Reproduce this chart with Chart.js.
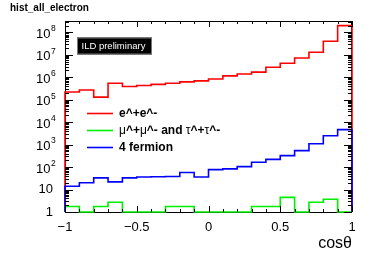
<!DOCTYPE html>
<html>
<head>
<meta charset="utf-8">
<script src="https://cdn.jsdelivr.net/npm/chart.js@4.4.0/dist/chart.umd.min.js"></script>
<style>
  html, body { margin: 0; padding: 0; background: #fff; }
  #wrap { width: 382px; height: 260px; }
</style>
</head>
<body>
<div id="wrap"><canvas id="histChart" width="382" height="260"></canvas></div>
<script>
// bin low edges, cos(theta) from -1 to 1, width 0.1
const binLow = [-1.0, -0.9, -0.8, -0.7, -0.6, -0.5, -0.4, -0.3, -0.2, -0.1,
                0.0, 0.1, 0.2, 0.3, 0.4, 0.5, 0.6, 0.7, 0.8, 0.9];
const binHigh = 1.0;

const eeValues = [2.2e5, 2.7e5, 1.3e5, 5.4e5, 3.9e5, 4.3e5, 4.8e5, 5.4e5, 6.2e5, 6.9e5,
                  8.4e5, 1.15e6, 1.4e6, 1.7e6, 2.8e6, 4.2e6, 7.2e6, 1.3e7, 4.0e7, 2.0e8];
const mumuTautauValues = [1.75, 1, 1.75, 2.7, 1, 1, 1, 1.75, 1.75, 1,
                          1, 1, 1, 1.75, 1.75, 4.5, 1, 2.7, 3.7, 1];
const fourFermionValues = [14, 20, 33, 22, 33, 36, 37, 38, 57, 36,
                           77, 83, 105, 164, 220, 324, 540, 1090, 2500, 4650];

const seriesLabels = ['e^+e^-', '\u03bc^+\u03bc^- and \u03c4^+\u03c4^-', '4 fermion'];
const xTickValues = [-1, -0.5, 0, 0.5, 1];
const yTickValues = [1, 10, 1e2, 1e3, 1e4, 1e5, 1e6, 1e7, 1e8];
const yMin = 1, yMax = 3.2e8;

const FONT = '"Liberation Sans", Arial, Helvetica, sans-serif';

function histPoints(values) {
  const pts = [{x: binLow[0], y: yMin}];
  values.forEach((v, i) => pts.push({x: binLow[i], y: v}));
  pts.push({x: binHigh, y: values[values.length - 1]});
  pts.push({x: binHigh, y: yMin});
  return pts;
}

function drawMixed(ctx, text, x, y) {
  // greek letters in plain weight, the rest bold (like ROOT latex)
  text.split(/([\u03bc\u03c4])/).forEach(part => {
    if (!part) return;
    ctx.font = (/[\u03bc\u03c4]/.test(part) ? '' : 'bold ') + '12px ' + FONT;
    ctx.fillText(part, x, y);
    x += ctx.measureText(part).width;
  });
}

const rootStyle = {
  id: 'rootStyle',
  beforeDatasetsDraw(chart) {
    const {ctx, chartArea: a} = chart;
    ctx.save();
    ctx.strokeStyle = '#000';
    ctx.lineWidth = 1;
    ctx.strokeRect(a.left + 0.5, a.top + 0.5, a.right - a.left - 1, a.bottom - a.top);
    ctx.restore();
  },
  afterDatasetsDraw(chart) {
    const {ctx, chartArea: a, scales: {x, y}} = chart;
    ctx.save();
    ctx.strokeStyle = '#000';
    ctx.lineWidth = 1;
    ctx.beginPath();
    // x ticks, bottom and top
    for (let i = -10; i <= 10; i++) {
      const px = Math.round(x.getPixelForValue(i / 10)) + 0.5;
      const len = (i % 5 === 0) ? 6 : 3;
      ctx.moveTo(px, a.bottom); ctx.lineTo(px, a.bottom - len);
      ctx.moveTo(px, a.top); ctx.lineTo(px, a.top + len);
    }
    // log y ticks, left and right
    for (let d = 0; d <= 8; d++) {
      for (let m = 1; m <= 9; m++) {
        const v = m * Math.pow(10, d);
        if (v > yMax) break;
        const py = Math.round(y.getPixelForValue(v)) + 0.5;
        const len = (m === 1) ? 8 : 4;
        ctx.moveTo(a.left, py); ctx.lineTo(a.left + len, py);
        ctx.moveTo(a.right, py); ctx.lineTo(a.right - len, py);
      }
    }
    ctx.stroke();
    ctx.restore();
  },
  afterDraw(chart) {
    const {ctx, chartArea: a, scales: {y}} = chart;
    ctx.save();
    ctx.fillStyle = '#000';

    // y labels with exponents
    yTickValues.forEach(v => {
      const py = y.getPixelForValue(v);
      const e = Math.round(Math.log10(v));
      ctx.textBaseline = 'middle';
      if (e < 2) {
        ctx.font = '13px ' + FONT;
        ctx.textAlign = 'right';
        ctx.fillText(String(v), 53, py);
      } else {
        ctx.font = '13px ' + FONT;
        ctx.textAlign = 'right';
        ctx.fillText('10', 50.5, py + 2);
        ctx.font = '8.5px ' + FONT;
        ctx.textAlign = 'left';
        ctx.fillText(String(e), 51, py - 3.5);
      }
    });

    // title
    ctx.font = 'bold 10px ' + FONT;
    ctx.textAlign = 'left';
    ctx.textBaseline = 'middle';
    ctx.fillText('hist_all_electron', 10, 8.5);

    // axis title
    ctx.font = '16px ' + FONT;
    ctx.textAlign = 'right';
    ctx.fillText('cos\u03b8', a.right, 244);

    // ILD preliminary box
    ctx.fillStyle = '#000';
    ctx.fillRect(77, 37.5, 75, 17);
    ctx.strokeStyle = '#777';
    ctx.lineWidth = 1;
    ctx.strokeRect(77.5, 38, 74, 16);
    ctx.fillStyle = '#fff';
    ctx.font = '9.5px ' + FONT;
    ctx.textAlign = 'left';
    ctx.fillText('ILD preliminary', 81.5, 46.5);

    // legend
    const rows = [113.5, 130.5, 147.5];
    chart.data.datasets.forEach((ds, i) => {
      ctx.strokeStyle = ds.borderColor;
      ctx.lineWidth = 1.6;
      ctx.beginPath();
      ctx.moveTo(87, rows[i]); ctx.lineTo(113, rows[i]);
      ctx.stroke();
      ctx.fillStyle = '#000';
      ctx.textAlign = 'left';
      ctx.textBaseline = 'middle';
      drawMixed(ctx, ds.label, 119, rows[i]);
    });
    ctx.restore();
  }
};

const ctx = document.getElementById('histChart').getContext('2d');
const histChart = new Chart(ctx, {
  type: 'line',
  data: {
    datasets: [
      {label: seriesLabels[0], data: histPoints(eeValues), borderColor: '#ff0000', order: 3},
      {label: seriesLabels[1], data: histPoints(mumuTautauValues), borderColor: '#00ee00', order: 2},
      {label: seriesLabels[2], data: histPoints(fourFermionValues), borderColor: '#0000ff', order: 1}
    ].map(ds => Object.assign(ds, {stepped: true, borderWidth: 1.6, pointRadius: 0, fill: false, clip: false}))
  },
  options: {
    responsive: false,
    animation: false,
    layout: {padding: {left: 0, right: 30, top: 21, bottom: 0}},
    plugins: {legend: {display: false}, tooltip: {enabled: false}},
    scales: {
      x: {
        type: 'linear', min: -1, max: 1,
        grid: {display: false}, border: {display: false},
        afterBuildTicks: s => { s.ticks = xTickValues.map(v => ({value: v})); },
        afterFit: s => { s.height = 48; },
        ticks: {
          padding: 0, maxRotation: 0, autoSkip: false, color: '#000',
          font: {family: FONT, size: 13},
          callback: v => v < 0 ? '\u2212' + Math.abs(v) : String(v)
        }
      },
      y: {
        type: 'logarithmic', min: yMin, max: yMax,
        grid: {display: false}, border: {display: false},
        ticks: {display: false},
        afterFit: s => { s.width = 65; }
      }
    }
  },
  plugins: [rootStyle]
});
</script>
</body>
</html>
